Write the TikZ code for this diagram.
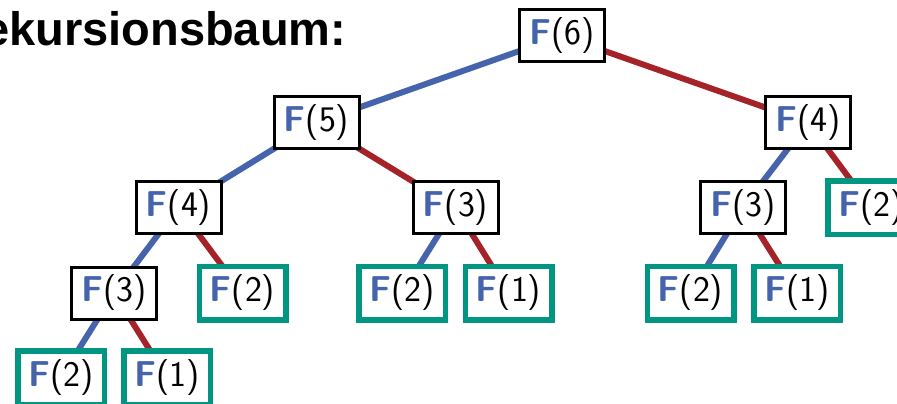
\documentclass[tikz,border=0pt]{standalone}
\usepackage{fontspec}
\newfontfamily\titlefont{Liberation Sans}
\usetikzlibrary{backgrounds}
\definecolor{fblue}{RGB}{70,100,172}
\definecolor{ered}{RGB}{165,35,40}
\definecolor{lgreen}{RGB}{0,150,130}
\newcommand\FF[1]{\textcolor{fblue}{\bfseries F}(#1)}
\begin{document}
\begin{tikzpicture}[x=1pt,y=-1pt,
  call/.style={draw=black, line width=3pt, fill=white, minimum width=85pt, minimum height=52pt, inner sep=0pt, font=\sffamily\fontsize{36}{40}\selectfont},
  leaf/.style={call, draw=lgreen, line width=5.5pt, minimum width=86.5pt, minimum height=53.5pt},
  lft/.style={draw=fblue, line width=6pt},
  rgt/.style={draw=ered, line width=6pt}]
\useasboundingbox (0,0) rectangle (897,404);
\clip (0,0) rectangle (897,404);
\node[anchor=base east, inner sep=0pt, font=\titlefont\bfseries\fontsize{47}{53}\selectfont] (title) at (346.4,46) {Rekursionsbaum:};
\node[call] (f6) at (562,36) {\FF{6}};
\node[call] (f5) at (316.5,122.5) {\FF{5}};
\node[call] (f4r) at (808,122.5) {\FF{4}};
\node[call] (f4l) at (178.5,207.5) {\FF{4}};
\node[call] (f3m) at (455.5,207.5) {\FF{3}};
\node[call] (f3r) at (743,207.5) {\FF{3}};
\node[leaf] (f2r) at (871,207.5) {\FF{2}};
\node[call] (f3l) at (114,293) {\FF{3}};
\node[leaf] (f2a) at (242.5,293) {\FF{2}};
\node[leaf] (f2b) at (402,293) {\FF{2}};
\node[leaf] (f1b) at (508.5,293) {\FF{1}};
\node[leaf] (f2c) at (690.5,293) {\FF{2}};
\node[leaf] (f1c) at (797,293) {\FF{1}};
\node[leaf] (f2d) at (61,377.5) {\FF{2}};
\node[leaf] (f1d) at (167,377.5) {\FF{1}};
\begin{pgfonlayer}{background}
\draw[lft] (f6.center) -- (f5.center);
\draw[rgt] (f6.center) -- (f4r.center);
\draw[lft] (f5.center) -- (f4l.center);
\draw[rgt] (f5.center) -- (f3m.center);
\draw[lft] (f4l.center) -- (f3l.center);
\draw[rgt] (f4l.center) -- (f2a.center);
\draw[lft] (f3l.center) -- (f2d.center);
\draw[rgt] (f3l.center) -- (f1d.center);
\draw[lft] (f3m.center) -- (f2b.center);
\draw[rgt] (f3m.center) -- (f1b.center);
\draw[lft] (f4r.center) -- (f3r.center);
\draw[rgt] (f4r.center) -- (f2r.center);
\draw[lft] (f3r.center) -- (f2c.center);
\draw[rgt] (f3r.center) -- (f1c.center);
\end{pgfonlayer}
\end{tikzpicture}
\end{document}
